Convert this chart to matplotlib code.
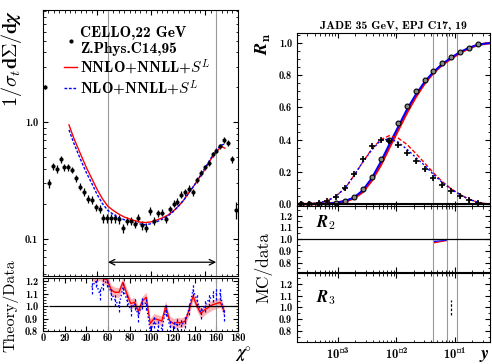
import numpy as np
import matplotlib
matplotlib.use('Agg')
import matplotlib.pyplot as plt
from matplotlib.lines import Line2D
from matplotlib.ticker import MultipleLocator, FixedLocator, FixedFormatter, LogLocator, NullFormatter

plt.rcParams['font.family'] = 'cmb10'
plt.rcParams['mathtext.fontset'] = 'cm'
plt.rcParams['axes.unicode_minus'] = False
plt.rcParams['axes.linewidth'] = 0.8

# ---- left: CELLO 22 GeV EEC ----
chi = [1.8, 5.4, 9.0, 12.6, 16.2, 19.8, 23.4, 27.0, 30.6, 34.2, 37.8, 41.4, 45.0, 48.6, 52.2,
       55.8, 59.4, 63.0, 66.6, 70.2, 73.8, 77.4, 81.0, 84.6, 88.2, 91.8, 95.4, 99.0, 102.6, 106.2,
       109.8, 113.4, 117.0, 120.6, 124.2, 127.8, 131.4, 135.0, 138.6, 142.2, 145.8, 149.4, 153.0,
       156.6, 160.2, 163.8, 167.4, 171.0, 174.6, 178.2]
cello = [2.0, 0.30, 0.42, 0.40, 0.48, 0.41, 0.41, 0.39, 0.33, 0.28, 0.254, 0.22, 0.215, 0.186, 0.18,
         0.15, 0.15, 0.15, 0.15, 0.147, 0.124, 0.142, 0.142, 0.135, 0.151, 0.131, 0.125, 0.174, 0.143, 0.165,
         0.168, 0.147, 0.18, 0.20, 0.208, 0.24, 0.25, 0.27, 0.25, 0.32, 0.37, 0.41, 0.45, 0.53,
         0.57, 0.62, 0.71, 0.66, 0.48, 0.178]
cello_err = [0.08, 0.025, 0.03, 0.03, 0.03, 0.03, 0.03, 0.025, 0.025, 0.02, 0.02, 0.016, 0.016, 0.014, 0.014,
             0.012, 0.012, 0.012, 0.012, 0.012, 0.011, 0.011, 0.011, 0.011, 0.012, 0.011, 0.011, 0.013, 0.011, 0.012,
             0.012, 0.011, 0.013, 0.014, 0.014, 0.016, 0.017, 0.018, 0.017, 0.02, 0.022, 0.024, 0.026, 0.03,
             0.03, 0.035, 0.04, 0.04, 0.035, 0.03]

chi_th = [24, 28, 32, 36, 40, 45, 50, 55, 60, 65, 70, 75, 80, 85, 90, 95, 100, 105, 110, 115, 120,
          125, 130, 135, 140, 145, 150, 155, 160, 165, 168]
nnlo = [0.95, 0.75, 0.61, 0.50, 0.41, 0.33, 0.265, 0.22, 0.19, 0.175, 0.163, 0.154, 0.148, 0.143, 0.139,
        0.138, 0.140, 0.145, 0.151, 0.159, 0.172, 0.19, 0.215, 0.25, 0.29, 0.34, 0.40, 0.48, 0.56, 0.62, 0.60]
nlo = [0.86, 0.68, 0.55, 0.45, 0.37, 0.30, 0.24, 0.20, 0.175, 0.162, 0.152, 0.146, 0.141, 0.137, 0.134,
       0.132, 0.135, 0.140, 0.147, 0.156, 0.170, 0.19, 0.215, 0.25, 0.29, 0.345, 0.41, 0.49, 0.58, 0.64, 0.65]

chi_r = chi[12:47]
ratio_nnlo = [1.25, 1.22, 1.25, 1.22, 1.21, 1.13, 1.11, 1.11, 1.19, 1.10, 1.02, 1.03, 0.96, 1.04, 1.07,
              0.86, 0.90, 0.89, 0.88, 1.00, 0.88, 0.86, 0.87, 0.865, 0.88, 0.97, 1.08, 1.00, 0.94, 0.97,
              0.99, 1.01, 1.02, 1.03, 0.96]
ratio_nlo = [1.15, 1.20, 1.10, 1.18, 1.20, 1.10, 1.05, 1.00, 1.15, 1.05, 0.97, 1.02, 0.92, 1.03, 1.02,
             0.80, 0.87, 0.84, 0.82, 0.97, 0.84, 0.83, 0.86, 0.85, 0.87, 0.98, 1.13, 1.05, 0.95, 1.00,
             1.05, 1.08, 1.10, 1.10, 0.93]

# ---- right: JADE 35 GeV jet rates ----
ycut = [0.00023, 0.00032, 0.00047, 0.00066, 0.00093, 0.00134, 0.00187, 0.00266, 0.00378, 0.00538,
        0.00757, 0.01076, 0.0153, 0.0215, 0.0306, 0.043, 0.061, 0.087, 0.124, 0.174, 0.247]
r2_data = [0.0, 0.0, 0.001, 0.003, 0.008, 0.019, 0.041, 0.093, 0.169, 0.283,
           0.396, 0.506, 0.611, 0.70, 0.768, 0.828, 0.877, 0.916, 0.947, 0.972, 0.993]
r3_data = [0.0, 0.001, 0.004, 0.019, 0.045, 0.097, 0.184, 0.277, 0.359, 0.396,
           0.39, 0.37, 0.32, 0.268, 0.215, 0.165, 0.118, 0.083, 0.050, 0.025, 0.008]

y_th = [0.0002, 0.00023, 0.00032, 0.00047, 0.00066, 0.00093, 0.00134, 0.00187, 0.00266, 0.00378, 0.00538,
        0.00757, 0.01076, 0.0153, 0.0215, 0.0306, 0.043, 0.061, 0.087, 0.124, 0.174, 0.247, 0.35, 0.4]
r2_nnlo = [0.0, 0.0, 0.0, 0.001, 0.003, 0.008, 0.018, 0.035, 0.075, 0.145, 0.24,
           0.35, 0.46, 0.57, 0.665, 0.75, 0.815, 0.865, 0.905, 0.94, 0.968, 0.988, 0.998, 1.0]
r2_nlo = [0.0, 0.0, 0.0, 0.001, 0.003, 0.008, 0.02, 0.04, 0.085, 0.16, 0.26,
          0.37, 0.48, 0.59, 0.68, 0.76, 0.82, 0.87, 0.91, 0.945, 0.97, 0.99, 0.998, 1.0]
r3_nnlo = [0.0, 0.0, 0.002, 0.008, 0.02, 0.05, 0.10, 0.175, 0.26, 0.34, 0.40,
           0.425, 0.41, 0.37, 0.315, 0.255, 0.195, 0.14, 0.095, 0.06, 0.03, 0.012, 0.002, 0.0]
r3_nlo = [0.0, 0.0, 0.002, 0.008, 0.02, 0.05, 0.10, 0.175, 0.26, 0.335, 0.395,
          0.405, 0.385, 0.34, 0.29, 0.24, 0.185, 0.135, 0.092, 0.058, 0.03, 0.012, 0.002, 0.0]

y_r2 = [0.042, 0.075]
r2_ratio_nnlo_lo = [0.966, 0.988]
r2_ratio_nnlo_hi = [0.980, 0.994]
r2_ratio_nlo_lo = [0.978, 0.992]
r2_ratio_nlo_hi = [0.990, 0.998]
fit_lines = [0.042, 0.075, 0.11]

fig = plt.figure(figsize=(4.92, 3.64), dpi=100)

ax = fig.add_axes([0.0874, 0.2418, 0.396, 0.7308])
axr = fig.add_axes([0.0874, 0.0907, 0.396, 0.1456])

for a in (ax, axr):
    a.axvline(60, color='#999999', lw=0.8)
    a.axvline(160, color='#999999', lw=0.8)
    a.tick_params(which='both', direction='in', top=True, right=True, labelsize=7.5)
    a.tick_params(which='major', length=3.5)
    a.tick_params(which='minor', length=1.8)

ax.errorbar(chi, cello, yerr=cello_err, xerr=0.7, fmt='o', ms=2, color='black',
            elinewidth=0.9, capsize=0)
l_red, = ax.plot(chi_th, nnlo, color='red', lw=1.0)
l_blue, = ax.plot(chi_th, nlo, color='blue', lw=1.0, ls=(0, (2, 1.2)))
ax.annotate('', xy=(60, 0.063), xytext=(160, 0.063),
            arrowprops=dict(arrowstyle='<->', color='black', lw=0.9, shrinkA=0, shrinkB=0))
ax.set_yscale('log')
ax.set_ylim(0.048, 9.2)
ax.set_xlim(0, 180)
ax.yaxis.set_major_locator(FixedLocator([0.1, 1.0]))
ax.yaxis.set_major_formatter(FixedFormatter(['0.1', '1.0']))
ax.yaxis.set_minor_locator(LogLocator(subs=np.arange(2, 10)))
ax.yaxis.set_minor_formatter(NullFormatter())
ax.xaxis.set_minor_locator(MultipleLocator(5))
ax.set_xticklabels([])
ax.set_ylabel(r'$\mathbf{1/}\boldsymbol{\sigma_t}\mathbf{d\Sigma/d}\boldsymbol{\chi}$', fontsize=14.5,
              loc='top', labelpad=1)
dot = Line2D([], [], marker='o', ms=2, color='black', ls='none')
ax.legend([dot, l_red, l_blue],
          ['CELLO,22 GeV\nZ.Phys.C14,95', r'NNLO+NNLL+$\boldsymbol{S^L}$', r'NLO+NNLL+$\boldsymbol{S^L}$'],
          loc='upper right', frameon=False, fontsize=11, handlelength=0.9, handletextpad=0.2,
          borderaxespad=0.2, labelspacing=0.1, bbox_to_anchor=(0.91, 0.975))

axr.fill_between(chi_r, np.array(ratio_nnlo) - 0.04, np.array(ratio_nnlo) + 0.04,
                 color='red', alpha=0.3, lw=0)
axr.plot(chi_r, ratio_nnlo, color='red', lw=1.0)
eb = axr.errorbar(chi_r, ratio_nlo, yerr=0.05, color='blue', ls=':', lw=1.0, elinewidth=0.9, capsize=0)
eb[2][0].set_linestyle((0, (2, 1.5)))
axr.hlines(1.0, 6, 180, color='black', lw=0.9)
axr.set_xlim(0, 180)
axr.set_ylim(0.8, 1.225)
axr.set_xticks(range(0, 181, 20))
axr.xaxis.set_minor_locator(MultipleLocator(5))
axr.tick_params(axis='x', which='major', pad=1.5)
axr.set_yticks([0.8, 0.9, 1.0, 1.1, 1.2])
axr.yaxis.set_minor_locator(MultipleLocator(0.025))
fig.text(0.022, 0.16, 'Theory/Data', family='cmr10', fontsize=11.5, rotation=90, ha='center', va='center')
fig.text(0.512, 0.0, r'$\boldsymbol{\chi}^{\circ}$', fontsize=12, ha='right', va='bottom')

# ---- right panels ----
bx = fig.add_axes([0.6037, 0.434, 0.392, 0.475])
bx2 = fig.add_axes([0.6037, 0.2527, 0.392, 0.181])
bx3 = fig.add_axes([0.6037, 0.0604, 0.392, 0.19])

for a in (bx, bx2, bx3):
    a.set_xscale('log')
    a.set_xlim(2e-4, 0.4)
    for v in fit_lines:
        a.axvline(v, color='#999999', lw=0.8)
    a.tick_params(which='both', direction='in', top=True, right=True, labelsize=7.5)
    a.tick_params(which='major', length=3.5)
    a.tick_params(which='minor', length=1.8)
    a.xaxis.set_minor_locator(LogLocator(subs=np.arange(2, 10)))

bx.plot(y_th, r2_nnlo, color='red', lw=1.8)
bx.plot(y_th, r2_nlo, color='blue', lw=1.4)
bx.plot(y_th, r3_nnlo, color='red', lw=1.0, ls=(0, (3, 1.5)))
bx.plot(y_th, r3_nlo, color='blue', lw=1.0, ls=(0, (1.5, 1.5)))
bx.plot(ycut, r2_data, 'o', ms=3.5, mfc='#888888', mec='black', mew=0.8)
bx.errorbar(ycut, r3_data, yerr=0.01, fmt='+', ms=4, mew=1.2, color='black', elinewidth=0.8)
bx.axhline(0, color='black', lw=1.5)
bx.set_ylim(-0.012, 1.062)
bx.set_yticks([0.0, 0.2, 0.4, 0.6, 0.8, 1.0])
bx.yaxis.set_minor_locator(MultipleLocator(0.05))
bx.set_xticklabels([])
bx.set_title('JADE 35 GeV, EPJ C17, 19', fontsize=8.5, pad=3)
bx.set_ylabel(r'$\boldsymbol{R}_{\mathbf{n}}$', fontsize=13, loc='top', labelpad=4)

bx2.fill_between(y_r2, r2_ratio_nnlo_lo, r2_ratio_nnlo_hi, color='red', lw=0)
bx2.fill_between(y_r2, r2_ratio_nlo_lo, r2_ratio_nlo_hi, color='blue', lw=0)
bx2.axhline(1.0, color='black', lw=0.9)
bx2.set_ylim(0.72, 1.28)
bx2.set_yticks([0.8, 0.9, 1.0, 1.1, 1.2])
bx2.yaxis.set_minor_locator(MultipleLocator(0.05))
bx2.set_xticklabels([])
bx2.text(0.1, 0.68, r'$\boldsymbol{R}_{\mathbf{2}}$', transform=bx2.transAxes, fontsize=12)

bx3.vlines(0.087, 0.938, 1.066, color='black', lw=0.9, linestyles=(0, (2, 1.5)))
bx3.set_ylim(0.71, 1.29)
bx3.set_yticks([0.8, 0.9, 1.0, 1.1, 1.2])
bx3.yaxis.set_minor_locator(MultipleLocator(0.05))
bx3.tick_params(axis='x', which='major', labelsize=9)
bx3.text(0.1, 0.58, r'$\boldsymbol{R}_{\mathbf{3}}$', transform=bx3.transAxes, fontsize=12)
fig.text(0.995, 0.0, r'$\boldsymbol{y}$', fontsize=13, ha='right', va='bottom')

fig.text(0.535, 0.266, 'MC/data', family='cmr10', fontsize=12.5, rotation=90, ha='center', va='center')

fig.savefig('out.png', dpi=100)
